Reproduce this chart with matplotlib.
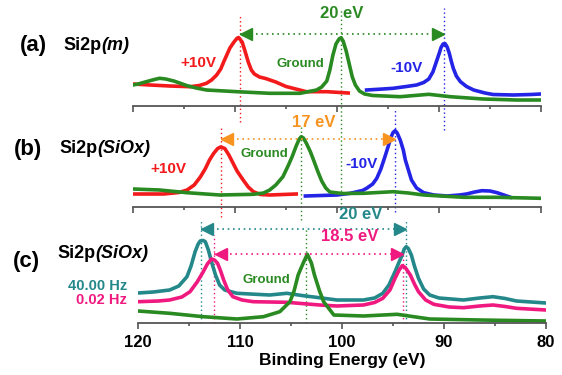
import matplotlib
matplotlib.use("Agg")
import matplotlib.pyplot as plt
from matplotlib.transforms import offset_copy

plt.rcParams["font.family"] = ["Liberation Sans", "DejaVu Sans"]

# ---- data (binding energy in eV, intensity in a.u.) ----
# panel (a) Si2p(m)
a_red_E = [120, 118.3, 116.4, 114.4, 113.5, 112.8, 112.3, 111.8, 111.4, 111.1,
           110.5, 110.1, 109.8, 109.65, 109.3, 109.0, 108.7, 108.4, 108.1, 107.6,
           107.0, 106.0, 105.0, 103.0, 101.0, 98.9]
a_red_I = [22, 21, 20, 19.3, 20.5, 22.7, 26, 31, 37, 44.3,
           58, 64, 67.7, 68.5, 64, 54.3, 44, 36, 32, 29,
           27.5, 24, 19.5, 14.3, 14.3, 13]
a_grn_E = [120, 119.5, 118.7, 117.9, 117.4, 116.8, 116.0, 115.3, 114.7, 113.8,
           112.8, 109.8, 106.6, 103.6, 102.0, 101.5, 101.0, 100.7, 100.4, 100.1,
           99.8, 99.6, 99.4, 99.1, 98.8, 98.5, 98.2, 97.8, 97.3, 96.5,
           93.8, 91.0, 88.9, 85.7, 82.4, 80]
a_grn_I = [21, 22, 24.3, 26.5, 27.7, 27, 25, 22.5, 20.3, 18,
           16, 14.3, 12.7, 12.7, 16, 19, 25, 36, 51, 62,
           67, 68.3, 65, 55, 42, 29, 21, 15, 12, 10.5,
           9.3, 11.7, 9.3, 7, 6, 6]
a_blu_E = [97.1, 95.5, 94.5, 93.2, 92.2, 91.5, 91.0, 90.6, 90.3, 90.0,
           89.8, 89.6, 89.4, 89.2, 89.0, 88.8, 88.6, 88.3, 87.9, 87.3,
           86.6, 85.5, 84.7, 82.7, 81.0, 80]
a_blu_I = [16, 17, 17.7, 19.5, 21, 23.5, 27, 34, 43, 52,
           58.5, 62, 62.3, 59, 53, 45, 37.7, 30, 24.3, 19.5,
           16, 13, 11.5, 11, 11.5, 12]
a_peaks = [109.5, 99.6, 89.5]  # +10V, Ground, -10V

# panel (b) Si2p(SiOx)
b_red_E = [120, 117, 115.5, 114.7, 114.0, 113.4, 112.9, 112.5, 112.1, 111.7,
           111.4, 111.0, 110.6, 110.2, 109.8, 109.2, 108.7, 108.2, 107.5, 106.6,
           104.0]
b_red_I = [13, 13, 14.5, 17, 22, 30, 38.5, 47, 53.5, 58.5,
           60, 58.5, 52, 44, 36, 27, 20, 15.3, 12.5, 12,
           13]
b_grn_E = [120, 117.4, 114.7, 111.5, 108.2, 107.2, 106.6, 106.0, 105.3, 104.8,
           104.4, 104.0, 103.7, 103.5, 103.3, 103.0, 102.6, 102.3, 101.9, 101.5,
           101.1, 100.7, 99.5, 97.4, 94.5, 93.0, 91.5, 87.6, 84.3, 80]
b_grn_I = [18, 17, 14.3, 12, 12.7, 14, 17, 22, 30.3, 41,
           50.3, 61, 68, 70.3, 69, 63.7, 55, 47, 36, 26,
           19, 15, 13.5, 13.7, 15.3, 14, 12, 9.7, 9.7, 8.7]
b_blu_E = [103.1, 100.0, 98.7, 97.5, 97.1, 96.5, 96.1, 95.7, 95.3, 95.0,
           94.7, 94.5, 94.3, 94.1, 93.8, 93.5, 93.3, 93.0, 92.7, 92.2,
           91.5, 90.5, 89.2, 88.0, 87.3, 86.5, 85.8, 85.0, 84.3, 83.5,
           83.0]
b_blu_I = [11, 12, 13.7, 16.5, 18.7, 23, 28.7, 38, 50.3, 60,
           70, 74.5, 76.3, 74, 67, 57, 47, 37, 27, 19,
           14.3, 12, 11, 12, 13, 15, 16.3, 16, 14.3, 11.5,
           9.7]
b_peaks = [111.4, 103.5, 94.3]

# panel (c) Si2p(SiOx), pulsed bias
c_teal_E = [120, 118.5, 116.9, 116.0, 115.2, 114.8, 114.4, 114.1, 113.9, 113.6,
            113.4, 113.1, 112.8, 112.4, 112.0, 111.5, 110.3, 107.1, 105.4, 103.8,
            102.0, 100.5, 97.9, 96.8, 96.0, 95.4, 94.8, 94.4, 94.1, 93.9,
            93.7, 93.5, 93.2, 92.9, 92.5, 92.0, 91.4, 90.5, 88.1, 86.5,
            85.2, 84.0, 82.9, 80]
c_teal_I = [30, 31, 33, 37, 46.3, 57, 71.3, 79, 82, 82.5,
            81.3, 73, 61.3, 48, 38, 33, 29.7, 28, 29.7, 27.3,
            25, 23, 23, 25, 29.7, 38, 51.3, 61, 68, 74,
            76.3, 74.5, 68, 57, 44.7, 34, 28, 25, 23, 25,
            26.3, 24.5, 22, 20]
c_pink_E = [120, 118, 116.9, 115.7, 114.9, 114.2, 113.6, 113.2, 112.8, 112.5,
            112.2, 111.9, 111.6, 111.2, 110.7, 109.8, 108.7, 105.4, 102.2, 100.5,
            97.9, 96.8, 96.0, 95.3, 94.8, 94.4, 94.1, 93.8, 93.3, 92.9,
            92.5, 91.8, 91.0, 89.5, 88.1, 86.5, 85.2, 84.0, 82.9, 80]
c_pink_I = [21.3, 22, 23, 26, 31.3, 41, 51.3, 59, 64, 63,
            59.7, 52, 43, 33, 26.3, 23, 21.3, 20.7, 18, 17,
            18, 20.5, 24.7, 33, 44.7, 53, 57.3, 55.5, 48, 39,
            31.3, 23, 18.7, 16, 15.3, 17, 18, 16.5, 14.7, 13]
c_grn_E = [120, 116.9, 113.6, 110.3, 107.7, 106.1, 105.1, 104.7, 104.3, 103.8,
           103.4, 103.0, 102.7, 102.2, 101.8, 100.8, 97.9, 94.6, 91.4, 86.5,
           80]
c_grn_I = [12, 9.7, 6.3, 4, 6.3, 11.3, 21.3, 32, 48, 60,
           68.7, 60, 48, 32, 21.3, 8, 7, 8.7, 4, 3,
           2]
c_teal_peaks = [113.8, 93.7]
c_pink_peaks = [112.5, 94.0]
c_grn_peak = 103.5

RED = "#f21a1a"
GRN = "#2a8a22"
BLU = "#2424e6"
ORG = "#f7931e"
TEAL = "#24888a"
PINK = "#f0197f"

W, H = 562, 375
fig = plt.figure(figsize=(W / 100, H / 100), dpi=100)


def px_axes(x0, x1, ybot, height=100):
    ax = fig.add_axes([x0 / W, 1 - ybot / H, (x1 - x0) / W, height / H])
    ax.set_xlim(120, 80)
    ax.set_ylim(0, 100)
    ax.patch.set_alpha(0)
    for s in ("top", "left", "right"):
        ax.spines[s].set_visible(False)
    ax.spines["bottom"].set_color("#555555")
    ax.spines["bottom"].set_linewidth(1.3)
    ax.set_yticks([])
    ax.set_xticks([120, 110, 100, 90, 80])
    ax.set_xticks([115, 105, 95, 85], minor=True)
    ax.tick_params(axis="x", which="major", length=4.5, width=1.2, color="#555555")
    ax.tick_params(axis="x", which="minor", length=2.4, width=1.2, color="#555555")
    return ax


def vline(ax, e, h0, h1, color):
    ax.plot([e, e], [h0, h1], ls=(0, (1, 2)), lw=1, color=color, clip_on=False)


def span_arrow(ax, e1, e2, h, color):
    ax.plot([e1, e2], [h, h], ls=(0, (1, 2.2)), lw=1.2, color=color, clip_on=False)
    for e, m, dx in ((e1, "<", 4.5), (e2, ">", -4.5)):
        tr = offset_copy(ax.transData, fig=fig, x=dx, y=0, units="points")
        ax.plot([e], [h], marker=m, ms=9, color=color, mec=color,
                transform=tr, clip_on=False)


def panel_label(tag, x_tag, y_tag, x_name, y_name, name, sub, ax):
    fig.text(x_tag / W, 1 - y_tag / H, tag, fontsize=16, weight="bold",
             ha="center", va="center")
    t = fig.text(x_name / W, 1 - y_name / H, name, fontsize=13, weight="bold",
                 ha="left", va="center")
    ax.annotate(sub, xy=(1, 0.5), xycoords=t, ha="left", va="center",
                fontsize=13, weight="bold", style="italic", annotation_clip=False)


lw = 2.6
ev_fs = 12
lab_fs = 11

# ---------------- (a) ----------------
ax_a = px_axes(133, 541, 106)
ax_a.set_xticklabels([])
vline(ax_a, a_peaks[0], -16, 91, RED)
vline(ax_a, a_peaks[1], -102, 98, GRN)
vline(ax_a, a_peaks[2], -24, 98, BLU)
ax_a.plot(a_red_E, a_red_I, color=RED, lw=lw)
ax_a.plot(a_blu_E, a_blu_I, color=BLU, lw=lw)
ax_a.plot(a_grn_E, a_grn_I, color=GRN, lw=lw)
span_arrow(ax_a, a_peaks[0], a_peaks[2], 72, GRN)
ax_a.text(99.5, 92, "20 eV", color=GRN, fontsize=ev_fs, weight="bold",
          ha="center", va="center")
ax_a.text(113.6, 43, "+10V", color=RED, fontsize=lab_fs, weight="bold", ha="center", va="center")
ax_a.text(103.6, 42, "Ground", color=GRN, fontsize=9.5, weight="bold", ha="center", va="center")
ax_a.text(93.2, 38, "-10V", color=BLU, fontsize=lab_fs, weight="bold", ha="center", va="center")
panel_label("(a)", 33, 45, 63, 45, "Si2p", "(m)", ax_a)

# ---------------- (b) ----------------
ax_b = px_axes(133, 541, 207)
ax_b.set_xticklabels([])
vline(ax_b, b_peaks[0], -10, 80, RED)
vline(ax_b, b_peaks[1], -13, 80, GRN)
vline(ax_b, b_peaks[2], -5, 97, BLU)
ax_b.plot(b_red_E, b_red_I, color=RED, lw=lw)
ax_b.plot(b_blu_E, b_blu_I, color=BLU, lw=lw)
ax_b.plot(b_grn_E, b_grn_I, color=GRN, lw=lw)
span_arrow(ax_b, b_peaks[0], b_peaks[2], 68, ORG)
ax_b.text(102.3, 85, "17 eV", color=ORG, fontsize=ev_fs, weight="bold",
          ha="center", va="center")
ax_b.text(116.5, 38, "+10V", color=RED, fontsize=lab_fs, weight="bold", ha="center", va="center")
ax_b.text(107.1, 53, "Ground", color=GRN, fontsize=9.5, weight="bold", ha="center", va="center")
ax_b.text(97.6, 43, "-10V", color=BLU, fontsize=lab_fs, weight="bold", ha="center", va="center")
panel_label("(b)", 28, 150, 59, 148, "Si2p", "(SiOx)", ax_b)

# ---------------- (c) ----------------
ax_c = px_axes(138, 546, 323)
vline(ax_c, c_teal_peaks[0], 0, 103, TEAL)
vline(ax_c, c_pink_peaks[0], 0, 88, PINK)
vline(ax_c, c_grn_peak, 0, 96, GRN)
vline(ax_c, c_teal_peaks[1], 0, 103, TEAL)
vline(ax_c, c_pink_peaks[1], 0, 68, PINK)
ax_c.plot(c_teal_E, c_teal_I, color=TEAL, lw=lw)
ax_c.plot(c_pink_E, c_pink_I, color=PINK, lw=lw)
ax_c.plot(c_grn_E, c_grn_I, color=GRN, lw=lw)
span_arrow(ax_c, c_teal_peaks[0], c_teal_peaks[1], 94, TEAL)
span_arrow(ax_c, c_pink_peaks[0], c_pink_peaks[1], 69, PINK)
ax_c.text(98.2, 108, "20 eV", color=TEAL, fontsize=ev_fs, weight="bold",
          ha="center", va="center")
ax_c.text(99.2, 86, "18.5 eV", color=PINK, fontsize=ev_fs, weight="bold",
          ha="center", va="center")
ax_c.text(107.4, 43, "Ground", color=GRN, fontsize=9.5, weight="bold", ha="center", va="center")
panel_label("(c)", 26, 261, 57, 253, "Si2p", "(SiOx)", ax_c)
fig.text(127 / W, 1 - 286 / H, "40.00 Hz", color=TEAL, fontsize=10.5, weight="bold",
         ha="right", va="center")
fig.text(127 / W, 1 - 300 / H, "0.02 Hz", color=PINK, fontsize=10.5, weight="bold",
         ha="right", va="center")

ax_c.set_xticklabels(["120", "110", "100", "90", "80"], fontsize=12, weight="bold")
ax_c.tick_params(axis="x", which="major", pad=4)
ax_c.set_xlabel("Binding Energy (eV)", fontsize=12.5, weight="bold", labelpad=2)

fig.savefig("out.png", dpi=100)
